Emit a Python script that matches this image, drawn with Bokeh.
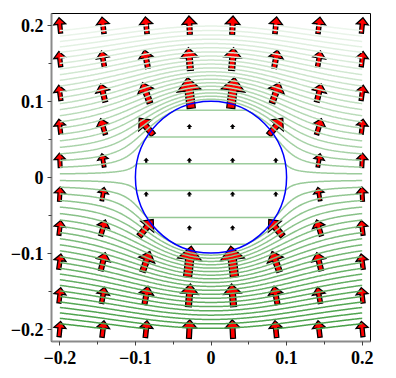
import numpy as np
import contourpy
from bokeh.plotting import figure
from bokeh.models import Range1d, FixedTicker
from bokeh.embed import file_html
from bokeh.resources import INLINE

# ---------------- data ----------------
tick_values = [-0.2, -0.1, 0, 0.1, 0.2]
tick_labels = ["\u22120.2", "\u22120.1", "0", "0.1", "0.2"]
minor_tick_values = [-0.15, -0.05, 0.05, 0.15]

# arrow grid (8 columns x 10 rows)
arrow_x = [-0.2, -0.142857, -0.085714, -0.028571, 0.028571, 0.085714, 0.142857, 0.2]
arrow_y = [0.2, 0.155556, 0.111111, 0.066667, 0.022222,
           -0.022222, -0.066667, -0.111111, -0.155556, -0.2]

# arrow components (rows top -> bottom, columns left -> right)
arrow_u = [
    [-0.10, -0.13, -0.11, -0.06, 0.06, 0.11, 0.13, 0.10],
    [-0.12, -0.19, -0.23, -0.13, 0.13, 0.23, 0.19, 0.12],
    [-0.14, -0.29, -0.48, -0.24, 0.24, 0.48, 0.29, 0.14],
    [-0.12, -0.31, -0.90, 0.00, 0.00, 0.90, 0.31, 0.12],
    [-0.05, -0.15, 0.00, 0.00, 0.00, 0.00, 0.15, 0.05],
    [0.05, 0.15, 0.00, 0.00, 0.00, 0.00, -0.15, -0.05],
    [0.12, 0.31, 0.90, 0.00, 0.00, -0.90, -0.31, -0.12],
    [0.14, 0.29, 0.48, 0.24, -0.24, -0.48, -0.29, -0.14],
    [0.12, 0.19, 0.23, 0.13, -0.13, -0.23, -0.19, -0.12],
    [0.10, 0.13, 0.11, 0.06, -0.06, -0.11, -0.13, -0.10],
]
arrow_v = [
    [0.99, 1.06, 1.09, 1.20, 1.20, 1.09, 1.06, 0.99],
    [0.99, 1.05, 1.18, 1.46, 1.46, 1.18, 1.05, 0.99],
    [0.99, 1.16, 1.32, 1.99, 1.99, 1.32, 1.16, 0.99],
    [0.96, 1.02, 1.07, 0.22, 0.22, 1.07, 1.02, 0.96],
    [0.93, 0.86, 0.22, 0.22, 0.22, 0.22, 0.86, 0.93],
    [0.93, 0.86, 0.22, 0.22, 0.22, 0.22, 0.86, 0.93],
    [0.96, 1.02, 1.07, 0.22, 0.22, 1.07, 1.02, 0.96],
    [0.99, 1.16, 1.32, 1.99, 1.99, 1.32, 1.16, 0.99],
    [0.99, 1.05, 1.18, 1.46, 1.46, 1.18, 1.05, 0.99],
    [0.99, 1.06, 1.09, 1.20, 1.20, 1.09, 1.06, 0.99],
]

# shielding cylinder and its scalar potential (green contour lines)
cylinder_radius = 0.1
shield_factor = 0.8          # dipole strength of the cylinder
n_contours = 50
domain = (-0.2, 0.2)

# ---------------- figure ----------------
W, H = 396, 378
BL, BR, BT, BB = 51, 26, 13, 37
x0, x1 = -0.211, 0.211
y0, y1 = -0.2164, 0.2156

p = figure(width=W, height=H, x_range=Range1d(x0, x1), y_range=Range1d(y0, y1),
           output_backend="svg", toolbar_location=None,
           min_border_left=BL, min_border_right=BR, min_border_top=BT, min_border_bottom=BB)
p.grid.visible = False
p.outline_line_color = "black"
p.outline_line_width = 1
p.background_fill_color = "white"
p.border_fill_color = "white"

px_x = (W - BL - BR) / (x1 - x0)
px_y = (H - BT - BB) / (y1 - y0)

# ---- arrows ----
scale_px = 15.5
xs, ys = [], []
for j, cy in enumerate(arrow_y):
    for i, cx in enumerate(arrow_x):
        u, v = arrow_u[j][i], arrow_v[j][i]
        mag = float(np.hypot(u, v))
        L = scale_px * mag
        dx, dy = u / mag, v / mag
        nx, ny = -dy, dx
        h, hw, sw = 0.43 * L, 0.39 * L, 0.13 * L
        shape = [(-L / 2, sw), (L / 2 - h, sw), (L / 2 - h, hw), (L / 2, 0.0),
                 (L / 2 - h, -hw), (L / 2 - h, -sw), (-L / 2, -sw)]
        xs.append([cx + (a * dx + b * nx) / px_x for a, b in shape])
        ys.append([cy + (a * dy + b * ny) / px_y for a, b in shape])
p.patches(xs=xs, ys=ys, fill_color="#ff0000", line_color="black", line_width=1.3,
          line_join="miter")

# ---- contour lines of the potential ----
g = np.linspace(domain[0], domain[1], 321)
GX, GY = np.meshgrid(g, g)
R2 = GX ** 2 + GY ** 2
a2 = cylinder_radius ** 2
Z = np.where(R2 >= a2, GY * (1 - shield_factor * a2 / np.maximum(R2, 1e-12)),
             GY * (1 - shield_factor))
levels = np.linspace(Z.min(), Z.max(), n_contours + 2)[1:-1]
gen = contourpy.contour_generator(g, g, Z)
low = np.array([72, 160, 72])
high = np.array([236, 246, 236])
mx, my, mc = [], [], []
for k, lev in enumerate(levels):
    t = k / (len(levels) - 1)
    c = low + (high - low) * t
    col = "#%02x%02x%02x" % tuple(int(round(v)) for v in c)
    for seg in gen.lines(lev):
        mx.append(seg[:, 0].tolist())
        my.append(seg[:, 1].tolist())
        mc.append(col)
p.multi_line(xs=mx, ys=my, line_color=mc, line_width=1.5)

# ---- cylinder ----
p.ellipse(x=[0], y=[0], width=[2 * cylinder_radius], height=[2 * cylinder_radius],
          fill_color=None, line_color="#0000ff", line_width=1.5)

# ---- axes ----
overrides = {v: s for v, s in zip(tick_values, tick_labels)}
for ax in (p.xaxis[0], p.yaxis[0]):
    ax.ticker = FixedTicker(ticks=tick_values, minor_ticks=minor_tick_values)
    ax.axis_line_color = "#8a8a8a"
    ax.axis_line_width = 2
    ax.major_tick_line_color = "#404040"
    ax.major_tick_out = 4
    ax.major_tick_in = 0
    ax.minor_tick_line_color = "#404040"
    ax.minor_tick_out = 3
    ax.minor_tick_in = 0
    ax.major_label_text_font = "Liberation Serif"
    ax.major_label_text_font_style = "bold"
    ax.major_label_text_font_size = "18px"
    ax.major_label_text_color = "black"
    ax.major_label_overrides = overrides
p.yaxis[0].major_label_standoff = 4
p.xaxis[0].major_label_standoff = 5

open("out.html", "w").write(file_html(p, INLINE))
